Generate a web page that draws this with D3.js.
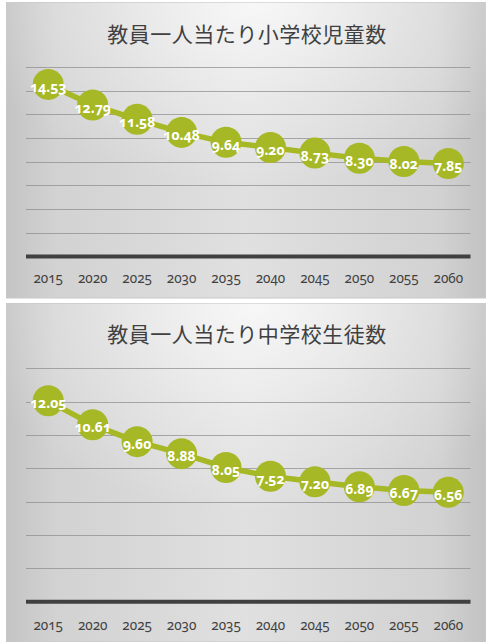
<!DOCTYPE html>
<html>
<head>
<meta charset="utf-8">
<script src="https://cdn.jsdelivr.net/npm/d3@7"></script>
<style>
  html, body { margin: 0; padding: 0; background: #ffffff; }
  svg { display: block; }
  .tick-label { font-family: "Noto Sans", "Open Sans", sans-serif; font-variant-numeric: oldstyle-nums; font-feature-settings: "onum" 1; }
  .value-label { font-family: "Noto Sans", "Open Sans", sans-serif; font-weight: bold; font-variant-numeric: oldstyle-nums; font-feature-settings: "onum" 1; }
  .title { font-family: "Noto Sans CJK JP", sans-serif; }
</style>
</head>
<body>
<script>
// Years on the horizontal axis
const years = ["2015", "2020", "2025", "2030", "2035", "2040", "2045", "2050", "2055", "2060"];

// Elementary school pupils per teacher
const elementaryValues = [14.53, 12.79, 11.58, 10.48, 9.64, 9.20, 8.73, 8.30, 8.02, 7.85];
const elementaryTitle = "教員一人当たり小学校児童数";
const elementaryGrid = [2, 4, 6, 8, 10, 12, 14, 16];
const elementaryMax = 16;

// Junior high school students per teacher
const juniorValues = [12.05, 10.61, 9.60, 8.88, 8.05, 7.52, 7.20, 6.89, 6.67, 6.56];
const juniorTitle = "教員一人当たり中学校生徒数";
const juniorGrid = [2, 4, 6, 8, 10, 12, 14];
const juniorMax = 14;

const W = 486, H = 642;
const green = "#a6b825";

const svg = d3.select("body").append("svg")
  .attr("width", W).attr("height", H);

const defs = svg.append("defs");

// base shading: darker toward the left and right edges
const side = defs.append("linearGradient")
  .attr("id", "panelSide")
  .attr("x1", "0%").attr("x2", "100%").attr("y1", "0%").attr("y2", "0%");
[["0%", "#c4c4c4"], ["10%", "#d2d2d2"], ["50%", "#e0e0e0"], ["90%", "#d2d2d2"], ["100%", "#c2c2c2"]]
  .forEach(([o, c]) => side.append("stop").attr("offset", o).attr("stop-color", c));

// soft highlight near the top centre
const glow = defs.append("radialGradient")
  .attr("id", "panelGlow")
  .attr("cx", "52%").attr("cy", "0%").attr("r", "62%");
glow.append("stop").attr("offset", "0%").attr("stop-color", "#ffffff").attr("stop-opacity", 0.75);
glow.append("stop").attr("offset", "55%").attr("stop-color", "#ffffff").attr("stop-opacity", 0.3);
glow.append("stop").attr("offset", "100%").attr("stop-color", "#ffffff").attr("stop-opacity", 0);

function drawPanel(cfg) {
  const g = svg.append("g");

  // panel background
  g.append("rect")
    .attr("x", cfg.left).attr("y", cfg.top)
    .attr("width", W - cfg.left).attr("height", cfg.bottom - cfg.top)
    .attr("fill", "url(#panelSide)")
    .attr("stroke", "#c8c8c8").attr("stroke-width", 1);
  g.append("rect")
    .attr("x", cfg.left).attr("y", cfg.top)
    .attr("width", W - cfg.left).attr("height", cfg.bottom - cfg.top)
    .attr("fill", "url(#panelGlow)");

  // title
  g.append("text")
    .attr("class", "title")
    .attr("x", 247).attr("y", cfg.titleY)
    .attr("text-anchor", "middle")
    .attr("dominant-baseline", "central")
    .attr("font-size", 21)
    .attr("letter-spacing", 0.5)
    .attr("fill", "#404040")
    .text(cfg.title);

  const x = d3.scaleBand().domain(years).range([26, 470.5]).padding(0);
  const y = d3.scaleLinear().domain([0, cfg.max]).range([cfg.plotBottom, cfg.plotTop]);

  // horizontal gridlines
  g.append("g").selectAll("line")
    .data(cfg.grid)
    .join("line")
    .attr("x1", 26).attr("x2", 470.5)
    .attr("y1", d => Math.round(y(d)) + 0.5)
    .attr("y2", d => Math.round(y(d)) + 0.5)
    .attr("stroke", "#8a8a8a")
    .attr("stroke-opacity", 0.7)
    .attr("stroke-width", 1);

  // category axis
  const axis = d3.axisBottom(x).tickSize(0).tickPadding(0);
  const axG = g.append("g")
    .attr("transform", `translate(0,${y(0)})`)
    .call(axis);
  axG.select(".domain")
    .attr("stroke", "#404040")
    .attr("stroke-width", 4)
    .attr("d", `M26,0H470.5`);
  axG.selectAll(".tick text")
    .attr("class", "tick-label")
    .attr("font-size", 13.5)
    .attr("fill", "#404040")
    .attr("dy", null)
    .attr("y", cfg.tickOffset)
    .attr("dominant-baseline", "central");

  const cx = d => x(d) + x.bandwidth() / 2;
  const pts = years.map((yr, i) => ({ year: yr, value: cfg.values[i] }));

  // connecting line
  g.append("path")
    .datum(pts)
    .attr("fill", "none")
    .attr("stroke", green)
    .attr("stroke-width", 5.5)
    .attr("stroke-linejoin", "round")
    .attr("d", d3.line().x(d => cx(d.year)).y(d => y(d.value)));

  // markers
  g.append("g").selectAll("circle")
    .data(pts)
    .join("circle")
    .attr("cx", d => cx(d.year))
    .attr("cy", d => y(d.value))
    .attr("r", 15.5)
    .attr("fill", green);

  // value labels
  g.append("g").selectAll("text")
    .data(pts)
    .join("text")
    .attr("class", "value-label")
    .attr("x", d => cx(d.year))
    .attr("y", d => y(d.value) + 2)
    .attr("text-anchor", "middle")
    .attr("dominant-baseline", "central")
    .attr("font-size", 14)
    .attr("fill", "#ffffff")
    .text(d => d.value.toFixed(2));
}

drawPanel({
  top: 2.5, bottom: 298, left: 6.5,
  titleY: 33,
  title: elementaryTitle,
  values: elementaryValues,
  grid: elementaryGrid,
  max: elementaryMax,
  plotTop: 67, plotBottom: 256.5,
  tickOffset: 21
});

drawPanel({
  top: 303.5, bottom: 642, left: 6.5,
  titleY: 333,
  title: juniorTitle,
  values: juniorValues,
  grid: juniorGrid,
  max: juniorMax,
  plotTop: 368.3, plotBottom: 601.7,
  tickOffset: 23
});
</script>
</body>
</html>
